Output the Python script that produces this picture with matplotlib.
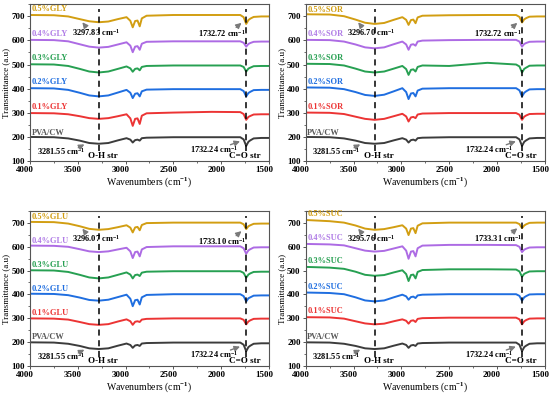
import matplotlib
matplotlib.use("Agg")
import matplotlib.pyplot as plt
from matplotlib.ticker import MultipleLocator
from matplotlib.transforms import ScaledTranslation

plt.rcParams["font.family"] = "Liberation Serif"
plt.rcParams["font.weight"] = "bold"
plt.rcParams["mathtext.fontset"] = "custom"
plt.rcParams["mathtext.rm"] = "Liberation Serif:bold"
plt.rcParams["mathtext.bf"] = "Liberation Serif:bold"
plt.rcParams["mathtext.default"] = "rm"

wavenumber = [4000, 3750, 3600, 3480, 3380, 3280, 3180, 3080, 2990, 2950,
              2925, 2900, 2875, 2852, 2830, 2780, 2500, 2100, 1800, 1765,
              1738, 1715, 1695, 1660, 1580, 1500]

# same reference film in every panel
pva_cw = [200, 199, 194, 185, 175, 172, 175, 186, 195, 189,
          177, 187, 189, 185, 195, 197, 199, 199, 199, 190,
          163, 180, 186, 194, 196, 196]

gly_01 = [299, 298, 294, 286, 278, 275, 278, 286, 294, 277,
          246, 275, 277, 254, 288, 298, 301, 304, 303, 295,
          271, 283, 287, 293, 294, 294]
gly_02 = [402, 401, 395, 383, 372, 368, 372, 384, 395, 383,
          361, 379, 381, 368, 389, 396, 398, 398, 398, 390,
          368, 382, 387, 394, 395, 395]
gly_03 = [501, 500, 494, 482, 471, 467, 471, 482, 492, 484,
          470, 482, 484, 476, 490, 494, 496, 496, 496, 490,
          471, 483, 487, 493, 494, 494]
gly_04 = [602, 601, 596, 584, 574, 570, 573, 583, 592, 578,
          551, 574, 576, 561, 586, 594, 596, 596, 596, 590,
          574, 585, 589, 594, 595, 595]
gly_05 = [705, 704, 699, 688, 679, 675, 678, 688, 696, 681,
          654, 680, 682, 658, 691, 702, 705, 705, 705, 696,
          668, 684, 690, 697, 699, 699]

sor_01 = [301, 300, 295, 284, 275, 271, 275, 286, 296, 285,
          264, 281, 283, 278, 293, 297, 299, 299, 299, 292,
          271, 284, 289, 295, 296, 296]
sor_02 = [405, 404, 398, 386, 374, 370, 375, 389, 402, 386,
          357, 380, 382, 368, 392, 400, 402, 402, 402, 393,
          368, 383, 389, 397, 398, 398]
sor_03 = [503, 502, 496, 483, 471, 467, 471, 483, 494, 481,
          457, 478, 480, 471, 490, 496, 494, 507, 500, 492,
          467, 482, 487, 495, 496, 496]
sor_04 = [602, 601, 595, 583, 571, 567, 571, 584, 595, 583,
          561, 582, 584, 578, 595, 599, 601, 602, 602, 595,
          574, 585, 589, 594, 595, 595]
sor_05 = [708, 707, 700, 686, 673, 668, 672, 685, 696, 685,
          664, 684, 686, 671, 695, 702, 704, 705, 705, 697,
          674, 687, 692, 698, 699, 699]

glu_01 = [300, 299, 295, 285, 276, 273, 276, 287, 296, 288,
          273, 286, 288, 285, 295, 298, 300, 300, 300, 294,
          275, 287, 292, 298, 299, 299]
glu_02 = [403, 402, 397, 387, 377, 374, 378, 389, 399, 382,
          351, 376, 378, 358, 388, 398, 401, 401, 401, 393,
          371, 384, 388, 395, 396, 396]
glu_03 = [501, 500, 494, 482, 471, 467, 471, 482, 492, 483,
          467, 481, 483, 477, 491, 495, 497, 497, 497, 490,
          470, 483, 488, 494, 495, 495]
glu_04 = [604, 603, 599, 589, 580, 577, 580, 588, 595, 580,
          552, 577, 579, 559, 588, 598, 601, 601, 601, 593,
          570, 584, 589, 596, 597, 597]
glu_05 = [703, 702, 696, 685, 674, 670, 673, 681, 689, 679,
          659, 680, 682, 668, 690, 698, 700, 700, 700, 693,
          673, 685, 689, 695, 696, 696]

suc_01 = [305, 304, 299, 288, 279, 275, 278, 288, 296, 290,
          278, 290, 292, 285, 298, 301, 303, 303, 303, 296,
          275, 288, 293, 299, 300, 300]
suc_02 = [408, 406, 401, 388, 375, 371, 375, 388, 399, 392,
          378, 389, 391, 385, 396, 399, 401, 401, 401, 394,
          374, 388, 393, 400, 401, 401]
suc_03 = [515, 512, 507, 495, 482, 478, 481, 492, 501, 485,
          456, 481, 483, 467, 494, 502, 505, 505, 504, 496,
          474, 486, 490, 496, 497, 497]
suc_04 = [611, 609, 605, 593, 583, 579, 582, 592, 601, 583,
          549, 579, 581, 559, 593, 604, 607, 607, 606, 599,
          577, 587, 591, 596, 597, 597]
suc_05 = [711, 706, 700, 688, 675, 670, 673, 681, 689, 675,
          648, 675, 677, 656, 687, 697, 700, 700, 700, 694,
          677, 688, 693, 699, 700, 700]

colors = ["#3c3c3c", "#ec3434", "#1f6ee0", "#27a052", "#ad6be4", "#d29e12"]
label_colors = ["#5a5a5a", "#ec3434", "#1f6ee0", "#27a052", "#b07ce6", "#d29e12"]
levels = ["0.1%", "0.2%", "0.3%", "0.4%", "0.5%"]

CM = r" cm$^{-1}$"


def draw_panel(fig, rect, name, series, label_y, oh_text, co_text, co_y):
    ax = fig.add_axes(rect)
    names = ["PVA/CW"] + [lv + name for lv in levels]
    for y, c, lc, lab, ly in zip(series, colors, label_colors, names, label_y):
        ax.plot(wavenumber, y, color=c, lw=1.4)
        ax.text(3985, ly, lab, color=lc, fontsize=6, va="center", ha="left")

    # dashed guide lines for O-H and C=O bands
    ax.plot([3275, 3275], [140, 728], color="black", lw=1.1, ls=(0, (4, 3)))
    ax.plot([1735, 1735], [140, 728], color="black", lw=1.1, ls=(0, (4, 3)))

    arrow = dict(arrowstyle="-|>", color="#7a7a7a", lw=1.0, mutation_scale=8)
    ax.annotate("", xy=(3470, 684), xytext=(3395, 646), arrowprops=arrow)
    ax.text(3565, 632, oh_text + CM, fontsize=6, va="center", ha="left")
    ax.annotate("", xy=(1765, co_y + 50), xytext=(1865, co_y + 16), arrowprops=arrow)
    ax.text(2240, co_y, co_text + CM, fontsize=6, va="center", ha="left")

    ax.annotate("", xy=(3405, 175), xytext=(3520, 150), arrowprops=arrow)
    ax.text(3930, 140, "3281.55" + CM, fontsize=6, va="center", ha="left")
    ax.text(3235, 121, "O-H str", fontsize=6.5, va="center", ha="center")
    ax.annotate("", xy=(1775, 186), xytext=(1930, 164), arrowprops=arrow)
    ax.text(2330, 150, "1732.24" + CM, fontsize=6, va="center", ha="left")
    ax.text(1750, 120, "C=O str", fontsize=6.5, va="center", ha="center")

    ax.set_xlim(4000, 1500)
    ax.set_ylim(100, 750)
    ax.xaxis.set_major_locator(MultipleLocator(500))
    ax.xaxis.set_minor_locator(MultipleLocator(250))
    ax.yaxis.set_major_locator(MultipleLocator(100))
    ax.yaxis.set_minor_locator(MultipleLocator(50))
    ax.set_yticks(range(100, 800, 100))
    ax.tick_params(which="both", direction="out", labelsize=6.5, pad=1.2,
                   color="#555555")
    ax.tick_params(which="major", length=2.5, width=0.7)
    ax.tick_params(which="minor", length=1.5, width=0.6)
    # tick labels sit a little left of their ticks in the original
    shift = ScaledTranslation(-5 / 100, 0, fig.dpi_scale_trans)
    for lbl in ax.get_xticklabels():
        lbl.set_transform(lbl.get_transform() + shift)
    for s in ax.spines.values():
        s.set_color("#555555")
        s.set_linewidth(0.8)
    ax.set_xlabel(r"Wavenumbers (cm$^{-1}$)", fontsize=7, labelpad=0.3)
    ax.set_ylabel("Transmittance (a.u)", fontsize=6.5, labelpad=1)
    return ax


def main():
    fig = plt.figure(figsize=(5.5, 3.93), dpi=100)

    draw_panel(fig, [0.0545, 0.590, 0.4345, 0.3995], "GLY",
               [pva_cw, gly_01, gly_02, gly_03, gly_04, gly_05],
               [216, 325, 426, 526, 628, 728], "3297.83", "1732.72", 630)
    draw_panel(fig, [0.556, 0.590, 0.4345, 0.3995], "SOR",
               [pva_cw, sor_01, sor_02, sor_03, sor_04, sor_05],
               [216, 326, 428, 528, 628, 727], "3296.70", "1732.72", 630)
    draw_panel(fig, [0.0545, 0.068, 0.4345, 0.396], "GLU",
               [pva_cw, glu_01, glu_02, glu_03, glu_04, glu_05],
               [221, 323, 422, 522, 625, 725], "3296.07", "1733.10", 622)
    draw_panel(fig, [0.556, 0.068, 0.4345, 0.396], "SUC",
               [pva_cw, suc_01, suc_02, suc_03, suc_04, suc_05],
               [221, 330, 433, 538, 634, 734], "3295.76", "1733.31", 634)

    fig.savefig("out.png", dpi=100)


if __name__ == "__main__":
    main()
